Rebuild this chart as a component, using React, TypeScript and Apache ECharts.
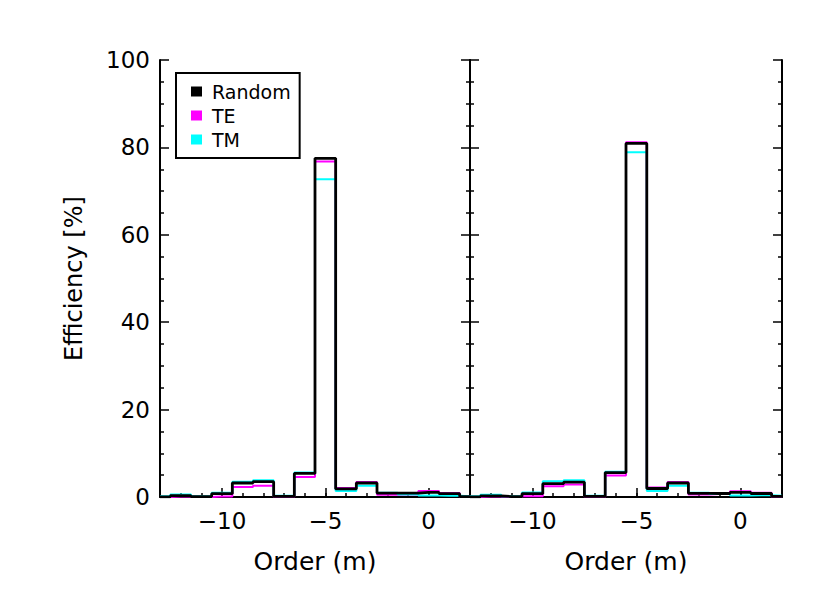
import React, { useEffect, useRef } from "react";
import * as echarts from "echarts";

const orders = [-13, -12, -11, -10, -9, -8, -7, -6, -5, -4, -3, -2, -1, 0, 1, 2];
const majorTicksX = [-10, -5, 0];
const minorTicksX = [-12, -11, -10, -9, -8, -7, -6, -5, -4, -3, -2, -1, 0, 1];

const randomLeft = [0.05, 0.3, 0.1, 0.75, 3.2, 3.5, 0.15, 5.4, 77.5, 1.85, 3.2, 0.9, 0.9, 1.05, 0.75, 0.1];
const teLeft = [0.0, 0.1, 0.0, 0.1, 2.3, 2.6, 0.05, 4.6, 76.8, 2.05, 3.45, 0.5, 0.6, 1.35, 0.9, 0.05];
const tmLeft = [0.2, 0.55, 0.2, 0.95, 3.5, 3.85, 0.3, 5.6, 72.7, 1.35, 2.55, 1.0, 0.6, 0.35, 0.3, 0.2];

const randomRight = [0.05, 0.25, 0.1, 0.75, 3.05, 3.4, 0.15, 5.6, 80.9, 1.95, 3.2, 0.85, 0.8, 1.05, 0.8, 0.15];
const teRight = [0.0, 0.1, 0.0, 0.2, 2.45, 2.85, 0.05, 4.9, 81.2, 2.15, 3.45, 0.6, 0.7, 1.3, 1.0, 0.05];
const tmRight = [0.2, 0.5, 0.2, 1.05, 3.6, 3.85, 0.3, 5.8, 78.9, 1.4, 2.6, 0.95, 0.7, 0.35, 0.4, 0.3];

const seriesNames = ["Random", "TE", "TM"];
const seriesColors = ["#000000", "#ff00ff", "#00ffff"];

const FONT = "DejaVu Sans";

const pairs = (vals: number[]) => orders.map((o, i) => [o, vals[i]]);

export default function App() {
  const ref = useRef<HTMLDivElement>(null);
  useEffect(() => {
    if (!ref.current) return;
    const chart = echarts.init(ref.current, undefined, { renderer: "svg" });

    const makeX = (gridIndex: number, main: boolean) => ({
      type: "value",
      gridIndex,
      min: -13,
      max: 2,
      position: "bottom",
      splitLine: { show: false },
      axisLine: { show: main, onZero: false, lineStyle: { color: "#000", width: 2 } },
      axisTick: {
        show: true,
        inside: true,
        length: main ? 9 : 4,
        customValues: main ? majorTicksX : minorTicksX,
        lineStyle: { color: "#000", width: 1.5 },
      },
      axisLabel: {
        show: main,
        customValues: majorTicksX,
        margin: 12,
        color: "#000",
        fontFamily: FONT,
        fontSize: 23,
        formatter: (v: number) => String(v).replace("-", "\u2212"),
      },
      name: main ? "Order (m)" : "",
      nameLocation: "middle",
      nameGap: 52,
      nameTextStyle: { color: "#000", fontFamily: FONT, fontSize: 25 },
    });

    const makeY = (gridIndex: number, position: string, labels: boolean) => ({
      type: "value",
      gridIndex,
      min: 0,
      max: 100,
      interval: 20,
      position,
      splitLine: { show: false },
      axisLine: { show: true, onZero: false, lineStyle: { color: "#000", width: 2 } },
      axisTick: { show: true, inside: true, length: 9, lineStyle: { color: "#000", width: 1.5 } },
      minorTick: { show: true, splitNumber: 4, length: 4, lineStyle: { color: "#000", width: 1.5 } },
      axisLabel: {
        show: labels,
        margin: 10,
        color: "#000",
        fontFamily: FONT,
        fontSize: 23,
      },
      name: labels ? "Efficiency [%]" : "",
      nameLocation: "middle",
      nameRotate: 90,
      nameGap: 74,
      nameTextStyle: { color: "#000", fontFamily: FONT, fontSize: 24 },
    });

    const data = [
      [randomLeft, teLeft, tmLeft],
      [randomRight, teRight, tmRight],
    ];
    const series: any[] = [];
    [0, 1].forEach((g) => {
      [1, 2, 0].forEach((k) => {
        series.push({
          type: "line",
          name: seriesNames[k],
          xAxisIndex: g * 2,
          yAxisIndex: g * 2,
          step: "middle",
          symbol: "none",
          color: seriesColors[k],
          lineStyle: { color: seriesColors[k], width: k === 0 ? 2.8 : 2 },
          data: pairs(data[g][k]),
          z: k === 0 ? 5 : 3,
        });
      });
    });

    chart.setOption({
      animation: false,
      backgroundColor: "#ffffff",
      grid: [
        { left: 160, top: 60, width: 310, height: 437 },
        { left: 470, top: 60, width: 312, height: 437 },
      ],
      xAxis: [makeX(0, true), makeX(0, false), makeX(1, true), makeX(1, false)],
      yAxis: [makeY(0, "left", true), makeY(0, "right", false), makeY(1, "left", false), makeY(1, "right", false)],
      legend: {
        show: true,
        orient: "vertical",
        left: 176,
        top: 73,
        backgroundColor: "#fff",
        borderColor: "#000",
        borderWidth: 2,
        borderRadius: 0,
        padding: [9, 9, 9, 15],
        itemGap: 5,
        itemWidth: 11,
        itemHeight: 10,
        selectedMode: false,
        textStyle: { color: "#000", fontFamily: FONT, fontSize: 19, padding: [0, 0, 0, 5] },
        data: seriesNames.map((n, i) => ({ name: n, icon: "rect", itemStyle: { color: seriesColors[i] } })),
      },
      series,
    });
    return () => chart.dispose();
  }, []);
  return (
    <div
      ref={ref}
      style={{ position: "fixed", left: 0, top: 0, width: 830, height: 600, background: "#fff" }}
    />
  );
}
